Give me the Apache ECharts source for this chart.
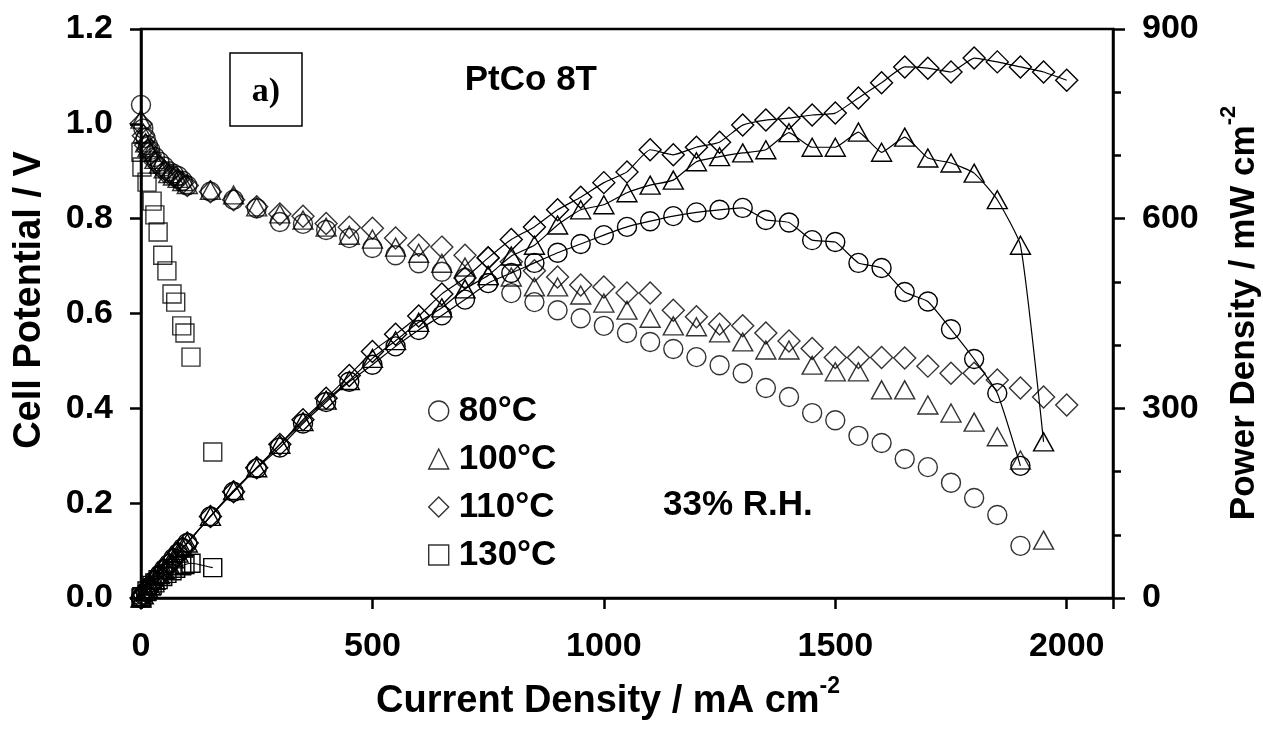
<!DOCTYPE html>
<html><head><meta charset="utf-8">
<script src="https://cdn.jsdelivr.net/npm/echarts@6/dist/echarts.min.js"></script>
<style>html,body{margin:0;padding:0;background:#fff}#c{width:1263px;height:743px}</style>
</head><body><div id="c"></div>
<script>
// ---- data ----
const xTicks = [0, 500, 1000, 1500, 2000];
const legendNames = ['80°C', '100°C', '110°C', '130°C'];

const cur80 = [0,5,10,15,20,30,40,50,60,70,80,90,100,150,200,250,300,350,400,450,500,550,600,650,700,750,800,850,900,950,1000,1050,1100,1150,1200,1250,1300,1350,1400,1450,1500,1550,1600,1650,1700,1750,1800,1850,1900];
const v80 = [1.04,0.99,0.97,0.955,0.945,0.93,0.92,0.91,0.90,0.895,0.89,0.88,0.87,0.857,0.84,0.822,0.793,0.789,0.776,0.759,0.738,0.723,0.706,0.688,0.675,0.664,0.643,0.624,0.607,0.59,0.574,0.559,0.54,0.525,0.508,0.491,0.474,0.443,0.424,0.39,0.375,0.342,0.327,0.293,0.276,0.243,0.211,0.175,0.11];
const p80 = [0,5,10,14,19,28,37,46,54,63,71,79,87,129,168,205,238,276,310,342,369,398,424,447,472,498,514,530,546,560,574,587,596,604,610,614,617,598,594,566,563,530,522,484,469,425,378,324,209];

const cur100 = [0,5,10,15,20,30,40,50,60,70,80,90,100,150,200,250,300,350,400,450,500,550,600,650,700,750,800,850,900,950,1000,1050,1100,1150,1200,1250,1300,1350,1400,1450,1500,1550,1600,1650,1700,1750,1800,1850,1900,1950];
const v100 = [1.01,0.98,0.96,0.95,0.94,0.925,0.915,0.905,0.895,0.89,0.885,0.878,0.872,0.86,0.85,0.825,0.81,0.797,0.782,0.765,0.757,0.74,0.727,0.706,0.698,0.68,0.677,0.656,0.656,0.639,0.622,0.607,0.59,0.574,0.572,0.559,0.54,0.523,0.523,0.491,0.477,0.477,0.439,0.439,0.407,0.39,0.371,0.34,0.291,0.122];
const p100 = [0,5,10,14,19,28,37,45,54,62,71,79,87,129,170,206,243,279,313,344,379,407,436,459,489,510,541,558,590,614,622,641,653,661,690,698,704,709,736,713,713,737,705,729,696,688,672,630,558,247];

const cur110 = [0,5,10,15,20,30,40,50,60,70,80,90,100,150,200,250,300,350,400,450,500,550,600,650,700,750,800,850,900,950,1000,1050,1100,1150,1200,1250,1300,1350,1400,1450,1500,1550,1600,1650,1700,1750,1800,1850,1900,1950,2000];
const v110 = [1.00,0.975,0.955,0.945,0.935,0.92,0.91,0.90,0.895,0.89,0.882,0.876,0.87,0.857,0.84,0.825,0.81,0.805,0.79,0.782,0.78,0.759,0.744,0.74,0.723,0.717,0.709,0.69,0.677,0.66,0.656,0.643,0.643,0.607,0.593,0.578,0.574,0.559,0.542,0.526,0.507,0.507,0.507,0.506,0.489,0.474,0.474,0.46,0.443,0.424,0.407];
const p110 = [0,5,10,14,19,28,36,45,54,62,71,79,87,129,168,206,243,282,316,352,390,417,446,481,506,538,567,587,614,634,657,674,709,701,713,721,748,756,759,764,767,791,815,840,838,832,854,848,840,832,819];

const cur130 = [0,2,13,24,30,37,47,56,67,75,88,95,108,155];
const v130 = [0.94,0.909,0.877,0.837,0.808,0.772,0.723,0.69,0.641,0.624,0.574,0.559,0.508,0.308];
const p130 = [0,2,11,20,24,29,34,39,43,47,51,53,55,48];

// ---- chart ----
const FONT = '"Liberation Sans", Arial, sans-serif';
const pair = (xs, ys) => xs.map((x, i) => [x, ys[i]]);
const hollow = { color: 'rgba(0,0,0,0)', borderColor: '#000', borderWidth: 1.4 };
const symbols = [
  { symbol: 'circle', size: 19 },
  { symbol: 'triangle', size: [20, 18] },
  { symbol: 'diamond', size: [22, 22] },
  { symbol: 'rect', size: [18, 18] }
];
const sets = [[cur80, v80, p80], [cur100, v100, p100], [cur110, v110, p110], [cur130, v130, p130]];

const series = [];
sets.forEach((s, i) => {
  series.push({
    name: legendNames[i], type: 'scatter', xAxisIndex: 0, yAxisIndex: 0,
    data: pair(s[0], s[1]), symbol: symbols[i].symbol, symbolSize: symbols[i].size,
    itemStyle: hollow, z: 3
  });
});
sets.forEach((s, i) => {
  series.push({
    name: legendNames[i] + ' power', type: 'line', xAxisIndex: 0, yAxisIndex: 1,
    data: pair(s[0], s[2]), symbol: symbols[i].symbol, symbolSize: symbols[i].size,
    showAllSymbol: true, smooth: 0.15,
    itemStyle: hollow, lineStyle: { color: '#000', width: 1.2 }, z: 3
  });
});

const chart = echarts.init(document.getElementById('c'), null, { renderer: 'canvas' });
chart.setOption({
  animation: false,
  backgroundColor: '#fff',
  grid: { left: 141, right: 150, top: 29, bottom: 145, show: true, borderColor: '#000', borderWidth: 2.5, backgroundColor: 'transparent' },
  legend: {
    orient: 'vertical', left: 423, top: 388, itemWidth: 20, itemHeight: 20, itemGap: 12,
    selectedMode: false,
    textStyle: { fontFamily: FONT, fontWeight: 'bold', fontSize: 35, color: '#000', lineHeight: 36, padding: [0, 0, 0, 5] },
    data: legendNames.map((n, i) => ({ name: n, icon: ['circle', 'triangle', 'diamond', 'rect'][i], itemStyle: hollow }))
  },
  xAxis: {
    type: 'value', min: 0, max: 2100, interval: 500,
    axisLine: { lineStyle: { color: '#000', width: 2.5 } },
    axisTick: { length: 11, lineStyle: { color: '#000', width: 2.5 } },
    axisLabel: { margin: 32, fontFamily: FONT, fontWeight: 'bold', fontSize: 34, color: '#000',
      formatter: v => (xTicks.indexOf(v) >= 0 ? String(v) : '') },
    splitLine: { show: false }
  },
  yAxis: [{
    type: 'value', min: 0, max: 1.2, interval: 0.2, position: 'left',
    axisLine: { show: true, lineStyle: { color: '#000', width: 2.5 } },
    axisTick: { show: true, length: 11, lineStyle: { color: '#000', width: 2.5 } },
    axisLabel: { margin: 28, fontFamily: FONT, fontWeight: 'bold', fontSize: 34, color: '#000', formatter: v => v.toFixed(1) },
    splitLine: { show: false }
  }, {
    type: 'value', min: 0, max: 900, interval: 300, position: 'right',
    axisLine: { show: true, lineStyle: { color: '#000', width: 2.5 } },
    axisTick: { show: true, length: 12, lineStyle: { color: '#000', width: 2.5 } },
    minorTick: { show: true, splitNumber: 3, length: 8, lineStyle: { color: '#000', width: 2.5 } },
    axisLabel: { margin: 29, fontFamily: FONT, fontWeight: 'bold', fontSize: 34, color: '#000' },
    splitLine: { show: false }
  }],
  graphic: [
    { type: 'rect', shape: { x: 230, y: 53, width: 72, height: 73 }, style: { fill: '#fff', stroke: '#000', lineWidth: 1.5 }, z: 10 },
    { type: 'text', x: 266, y: 92, style: { text: 'a)', font: 'bold 34px "Liberation Serif", "Times New Roman", serif', fill: '#000', textAlign: 'center', textVerticalAlign: 'middle' }, z: 11 },
    { type: 'text', x: 597, y: 80, style: { text: 'PtCo 8T', font: 'bold 35px ' + FONT, fill: '#000', textAlign: 'right', textVerticalAlign: 'middle' }, z: 11 },
    { type: 'text', x: 663, y: 505, style: { text: '33% R.H.', font: 'bold 35px ' + FONT, fill: '#000', textAlign: 'left', textVerticalAlign: 'middle' }, z: 11 },
    { type: 'text', x: 840, y: 698, style: {
        text: '{a|Current Density / mA cm}{b|-2}', textAlign: 'right', textVerticalAlign: 'middle', fill: '#000',
        rich: { a: { fontFamily: FONT, fontWeight: 'bold', fontSize: 38, lineHeight: 46, verticalAlign: 'bottom' },
                b: { fontFamily: FONT, fontWeight: 'bold', fontSize: 23, lineHeight: 23, verticalAlign: 'top' } } } },
    { type: 'text', x: 30, y: 300, rotation: Math.PI / 2, style: {
        text: 'Cell Potential / V', font: 'bold 38px ' + FONT, fill: '#000', textAlign: 'center', textVerticalAlign: 'middle' } },
    { type: 'text', x: 1240, y: 313, rotation: Math.PI / 2, style: {
        text: '{a|Power Density / mW cm}{b|-2}', textAlign: 'center', textVerticalAlign: 'middle', fill: '#000',
        rich: { a: { fontFamily: FONT, fontWeight: 'bold', fontSize: 35, lineHeight: 44, verticalAlign: 'bottom' },
                b: { fontFamily: FONT, fontWeight: 'bold', fontSize: 22, lineHeight: 22, verticalAlign: 'top' } } } }
  ],
  series: series
});
</script></body></html>
